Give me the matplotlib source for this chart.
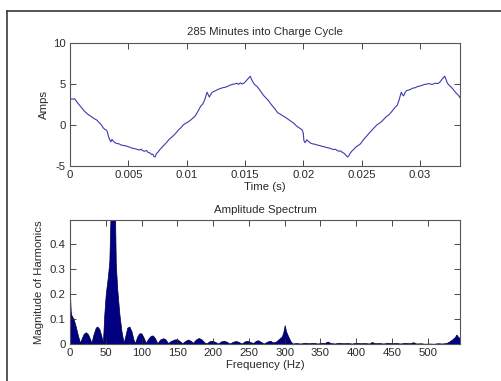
import matplotlib.pyplot as plt
from matplotlib.lines import Line2D

# current trace (time in ms, current in A)
time_ms = [0.00, 0.20, 0.40, 0.50, 0.65, 0.80, 1.00, 1.20, 1.30, 1.50, 1.70, 1.90,
           2.10, 2.30, 2.50, 2.70, 2.85, 3.00, 3.10, 3.20, 3.30, 3.40, 3.50, 3.60,
           3.70, 3.85, 4.00, 4.20, 4.40, 4.60, 4.80, 5.00, 5.20, 5.40, 5.60, 5.80,
           6.00, 6.10, 6.25, 6.40, 6.55, 6.70, 6.85, 7.00, 7.10, 7.20, 7.30, 7.40,
           7.55, 7.70, 7.90, 8.10, 8.30, 8.50, 8.70, 8.90, 9.10, 9.30, 9.50, 9.70,
           9.90, 10.10, 10.30, 10.50, 10.70, 10.90, 11.10, 11.20, 11.35, 11.50, 11.60, 11.75,
           11.85, 11.95, 12.05, 12.20, 12.35, 12.50, 12.70, 12.90, 13.10, 13.30, 13.50, 13.70,
           13.90, 14.10, 14.30, 14.45, 14.60, 14.75, 14.90, 15.05, 15.30, 15.45, 15.55, 15.70,
           15.85, 16.00, 16.20, 16.40, 16.60, 16.80, 17.00, 17.20, 17.40, 17.60, 17.80, 18.00,
           18.20, 18.40, 18.60, 18.80, 19.00, 19.20, 19.40, 19.60, 19.80, 19.90, 20.00, 20.05,
           20.15, 20.30, 20.45, 20.60, 20.80, 21.00, 21.20, 21.40, 21.60, 21.80, 22.00, 22.20,
           22.40, 22.60, 22.75, 22.90, 23.05, 23.20, 23.35, 23.50, 23.65, 23.80, 23.90, 24.00,
           24.15, 24.30, 24.50, 24.70, 24.90, 25.10, 25.30, 25.50, 25.70, 25.90, 26.10, 26.30,
           26.50, 26.70, 26.90, 27.10, 27.30, 27.50, 27.70, 27.90, 28.05, 28.20, 28.30, 28.40,
           28.50, 28.60, 28.70, 28.85, 29.00, 29.20, 29.40, 29.60, 29.80, 30.00, 30.20, 30.40,
           30.60, 30.80, 31.00, 31.15, 31.30, 31.45, 31.60, 31.75, 31.90, 32.00, 32.12, 32.22,
           32.35, 32.50, 32.70, 32.90, 33.10, 33.25, 33.43]
amps = [3.2, 3.15, 3.2, 3.0, 2.7, 2.45, 2.1, 1.75, 1.6, 1.35, 1.15, 0.95,
        0.75, 0.6, 0.3, 0.0, -0.35, -0.55, -0.6, -0.8, -1.4, -1.8, -2.05, -1.75,
        -1.95, -2.15, -2.25, -2.3, -2.45, -2.5, -2.55, -2.65, -2.75, -2.85, -2.9, -3.0,
        -3.05, -2.95, -3.15, -3.2, -3.1, -3.35, -3.4, -3.6, -3.55, -3.85, -3.9, -3.5,
        -3.3, -3.0, -2.7, -2.4, -2.1, -1.75, -1.5, -1.25, -0.95, -0.6, -0.35, 0.0,
        0.2, 0.35, 0.55, 0.8, 1.05, 1.5, 2.0, 2.3, 2.5, 2.9, 3.3, 4.0,
        3.7, 3.4, 3.7, 4.0, 4.1, 4.2, 4.35, 4.45, 4.55, 4.6, 4.7, 4.85,
        4.95, 5.0, 5.1, 4.95, 5.15, 5.0, 5.1, 5.3, 5.7, 5.95, 5.6, 5.2,
        4.9, 4.75, 4.4, 4.0, 3.6, 3.3, 3.0, 2.6, 2.25, 1.9, 1.5, 1.35,
        1.15, 1.0, 0.8, 0.6, 0.4, 0.2, -0.1, -0.3, -0.5, -0.6, -1.0, -1.9,
        -2.15, -1.8, -2.0, -2.2, -2.3, -2.35, -2.45, -2.5, -2.6, -2.65, -2.75, -2.8,
        -2.9, -3.0, -2.95, -3.1, -3.2, -3.15, -3.35, -3.45, -3.7, -3.9, -3.75, -3.5,
        -3.2, -3.0, -2.7, -2.5, -2.3, -1.9, -1.55, -1.25, -0.9, -0.6, -0.3, 0.0,
        0.2, 0.4, 0.7, 1.0, 1.2, 1.5, 1.85, 2.2, 2.4, 3.0, 3.5, 4.0,
        3.7, 3.55, 3.9, 4.2, 4.25, 4.35, 4.5, 4.55, 4.7, 4.75, 4.85, 4.95,
        5.0, 5.05, 4.95, 5.0, 5.1, 5.05, 5.1, 5.3, 5.6, 5.75, 5.95, 5.6,
        5.1, 4.85, 4.6, 4.25, 3.9, 3.7, 3.35]

# amplitude spectrum
freq_hz = [0, 1, 2, 5, 8, 11, 14, 16, 19, 22, 25, 28, 30, 33, 36, 38, 41, 44, 46, 48,
           50, 53, 55, 56.5, 63, 64, 66, 69, 72, 75, 78, 80, 83, 86, 89, 91, 94, 97, 100, 103,
           106, 109, 113, 116, 119, 122, 126, 130, 133, 137, 141, 146, 150, 154, 157, 161,
           165, 169, 172, 176, 180, 184, 188, 191, 195, 199, 203, 207, 211, 215, 219, 223,
           228, 232, 236, 240, 244, 248, 252, 256, 260, 263, 267, 271, 276, 280, 284, 288,
           292, 296, 298, 300, 302, 305, 308, 311, 316, 322, 328, 334, 340, 346, 352, 356,
           360, 364, 370, 376, 382, 388, 394, 400, 406, 412, 418, 422, 426, 432, 438, 444,
           450, 456, 462, 468, 474, 480, 484, 490, 496, 502, 508, 514, 520, 526, 530, 534,
           538, 540, 542, 545]
magnitude = [0.20, 0.13, 0.115, 0.10, 0.07, 0.035, 0.005, 0.02, 0.04, 0.047, 0.04, 0.02,
             0.005, 0.04, 0.065, 0.07, 0.06, 0.03, 0.005, 0.12, 0.20, 0.27, 0.33, 0.5,
             0.5, 0.32, 0.22, 0.12, 0.05, 0.005, 0.04, 0.065, 0.07, 0.05, 0.015, 0.004,
             0.03, 0.043, 0.042, 0.025, 0.004, 0.02, 0.033, 0.034, 0.022, 0.003, 0.018, 0.023,
             0.02, 0.004, 0.012, 0.018, 0.019, 0.01, 0.003, 0.012, 0.018, 0.012, 0.005, 0.018,
             0.024, 0.018, 0.006, 0.003, 0.011, 0.013, 0.008, 0.002, 0.01, 0.013, 0.009, 0.002,
             0.009, 0.012, 0.008, 0.002, 0.01, 0.013, 0.008, 0.004, 0.013, 0.015, 0.008, 0.002,
             0.01, 0.013, 0.006, 0.01, 0.02, 0.03, 0.045, 0.075, 0.05, 0.03, 0.012, 0.002,
             0.004, 0.002, 0.005, 0.003, 0.005, 0.002, 0.005, 0.004, 0.01, 0.004, 0.002, 0.005,
             0.003, 0.004, 0.002, 0.005, 0.003, 0.004, 0.002, 0.008, 0.003, 0.004, 0.002, 0.005,
             0.003, 0.004, 0.002, 0.005, 0.003, 0.007, 0.002, 0.003, 0.001, 0.002, 0.001, 0.003,
             0.002, 0.004, 0.01, 0.018, 0.028, 0.038, 0.03, 0.022]

time_ticks = [0, 0.005, 0.01, 0.015, 0.02, 0.025, 0.03]
time_labels = ['0', '0.005', '0.01', '0.015', '0.02', '0.025', '0.03']
amp_ticks = [-5, 0, 5, 10]
freq_ticks = [0, 50, 100, 150, 200, 250, 300, 350, 400, 450, 500]
mag_ticks = [0, 0.1, 0.2, 0.3, 0.4]

plt.rcParams['font.family'] = ['Liberation Sans', 'DejaVu Sans']
plt.rcParams['font.size'] = 8.2
plt.rcParams['axes.unicode_minus'] = False
plt.rcParams['text.color'] = '#2a2a2a'
plt.rcParams['axes.labelcolor'] = '#2a2a2a'
plt.rcParams['xtick.color'] = '#2a2a2a'
plt.rcParams['ytick.color'] = '#2a2a2a'

fig = plt.figure(figsize=(5.01, 3.81), dpi=100)
ax1 = fig.add_axes([0.1397, 0.5643, 0.7784, 0.3228])
ax2 = fig.add_axes([0.1397, 0.0971, 0.7784, 0.3255])

t_sec = [t / 1000.0 for t in time_ms]
ax1.plot(t_sec, amps, color='#3b3bb0', linewidth=0.8)
ax1.set_xlim(0, 0.03343)
ax1.set_ylim(-5, 10)
ax1.set_xticks(time_ticks)
ax1.set_xticklabels(time_labels)
ax1.set_yticks(amp_ticks)
ax1.set_title('285 Minutes into Charge Cycle', fontsize=8.2, pad=6)
ax1.set_xlabel('Time (s)', labelpad=1)
ax1.set_ylabel('Amps', labelpad=3)

ax2.fill_between(freq_hz, magnitude, 0, facecolor='#000080', edgecolor='#000040', linewidth=0.5)
ax2.set_xlim(0, 545)
ax2.set_ylim(0, 0.495)
ax2.set_xticks(freq_ticks)
ax2.set_yticks(mag_ticks)
ax2.set_yticklabels(['0', '0.1', '0.2', '0.3', '0.4'])
ax2.set_title('Amplitude Spectrum', fontsize=8.2, pad=5)
ax2.set_xlabel('Frequency (Hz)', labelpad=1)
ax2.set_ylabel('Magnitude of Harmonics', labelpad=4)

for ax in (ax1, ax2):
    ax.tick_params(direction='in', top=True, right=True, length=4, width=0.6, pad=3)
    for sp in ax.spines.values():
        sp.set_color('#555555')
        sp.set_linewidth(0.8)

# screenshot frame on the left and top
fig.add_artist(Line2D([0.014, 0.014], [0.0, 0.971], color='#3a3a3a', linewidth=1.2))
fig.add_artist(Line2D([0.014, 1.0], [0.971, 0.971], color='#3a3a3a', linewidth=1.2))

fig.savefig('out.png', dpi=100)
